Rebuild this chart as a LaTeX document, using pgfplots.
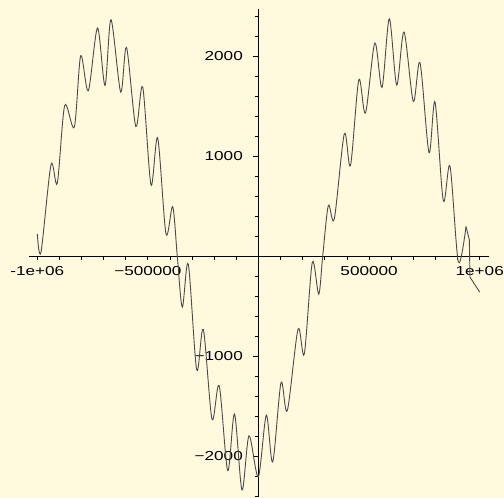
\documentclass[border=0pt]{standalone}
\usepackage{pgfplots}
\pgfplotsset{compat=1.18}
\usepackage{fontspec}
\setmainfont{Liberation Sans}[FakeStretch=1.32]
\definecolor{bg}{RGB}{255,249,222}
\definecolor{curve}{RGB}{74,74,74}
\begin{document}
\begin{tikzpicture}
\fill[bg] (-29pt,-1pt) rectangle (475pt,497pt);
\begin{axis}[
  scale only axis, width=460pt, height=488pt,
  at={(0pt,0pt)}, anchor=south west,
  xmin=-1037500, xmax=1042000, ymin=-2405, ymax=2472,
  axis lines=middle,
  axis line style={black, line width=0.8pt, -},
  clip=false,
  scaled x ticks=false, scaled y ticks=false,
  tick align=outside,
  major tick length=3.5pt,
  xtick style={black, line width=0.8pt},
  ytick style={black, line width=0.9pt},
  xtick={-1000000,-900000,-800000,-700000,-600000,-500000,-400000,-300000,-200000,-100000,100000,200000,300000,400000,500000,600000,700000,800000,900000,1000000},
  xticklabels={-1e+06,,,,,−500000,,,,,,,,,500000,,,,,1e+06},
  ytick={-2400,-2200,-2000,-1800,-1600,-1400,-1200,-1000,-800,-600,-400,-200,200,400,600,800,1000,1200,1400,1600,1800,2000,2200,2400},
  yticklabels={,,−2000,,,,,−1000,,,,,,,,,1000,,,,,2000,,},
  extra y ticks={-2000,-1000,1000,2000},
  extra y tick labels={},
  extra y tick style={major tick length=6pt},
  tick label style={font=\fontsize{13}{15}\selectfont, inner sep=0pt},
  xticklabel style={anchor=north, yshift=-6pt},
  yticklabel style={anchor=east, xshift=-12pt},
  /pgf/number format/assume math mode=true,
]
\addplot[curve, line width=0.9pt, smooth, tension=0.5] coordinates {
(-1000000,225) (-983300,42) (-938100,915) (-909600,732) (-876100,1508)
(-832700,1292) (-803800,2005) (-769400,1655) (-727800,2282) (-693900,1708)
(-666800,2365) (-623000,1642) (-596700,2088) (-554700,1298) (-523500,1692)
(-486000,715) (-455700,1182) (-418200,225) (-387900,498) (-367100,0)
(-344500,-508) (-317400,-78) (-279400,-1135) (-249500,-730) (-210200,-1628)
(-177700,-1292) (-139200,-2142) (-108500,-1575) (-74600,-2335) (-42900,-1793)
(-900,-2202) (35300,-1587) (64200,-2055) (101700,-1262) (130200,-1542)
(178600,-728) (207100,-975) (243200,-60) (272200,-378) (290200,0)
(315600,508) (342700,375) (387900,1225) (415900,908) (453400,1765)
(483700,1432) (525800,2132) (558300,1688) (591300,2375) (624800,1712)
(657800,2242) (699800,1548) (730100,1935) (770800,1038) (797900,1542)
(835400,555) (865700,902) (903300,-55) (938100,298)
};
\addplot[curve, line width=0.9pt] coordinates {
(938100,298) (953000,165) (956100,-208) (1000000,-358)
};
\end{axis}
\pgfresetboundingbox
\path[use as bounding box] (-29pt,-1pt) rectangle (475pt,497pt);
\end{tikzpicture}
\end{document}
